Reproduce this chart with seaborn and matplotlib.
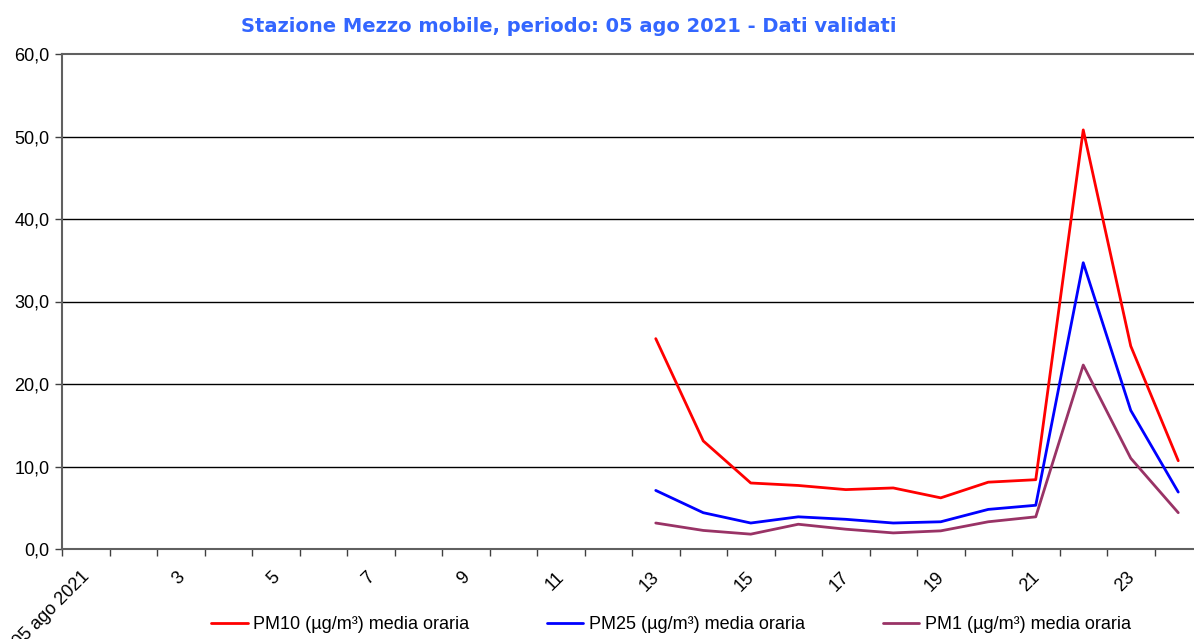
import matplotlib
matplotlib.use("Agg")
import matplotlib.pyplot as plt
import matplotlib.transforms as mtransforms
import seaborn as sns
import pandas as pd

# hourly averages, 05 ago 2021 (hours 1-12 missing)
hours = [13, 14, 15, 16, 17, 18, 19, 20, 21, 22, 23, 24]
pm10 = [25.5, 13.1, 8.0, 7.7, 7.2, 7.4, 6.2, 8.1, 8.4, 50.8, 24.6, 10.7]
pm25 = [7.1, 4.4, 3.15, 3.9, 3.6, 3.15, 3.3, 4.8, 5.3, 34.7, 16.8, 6.9]
pm1 = [3.15, 2.25, 1.8, 3.0, 2.4, 1.95, 2.2, 3.3, 3.9, 22.3, 11.0, 4.4]

series_names = ["PM10 (µg/m³) media oraria",
                "PM25 (µg/m³) media oraria",
                "PM1 (µg/m³) media oraria"]
colors = ["#FF0000", "#0000FF", "#993366"]

x_labels = ["05 ago 2021", "3", "5", "7", "9", "11", "13", "15", "17", "19", "21", "23"]
x_label_pos = [1, 3, 5, 7, 9, 11, 13, 15, 17, 19, 21, 23]
y_ticks = [0, 10, 20, 30, 40, 50, 60]

df = pd.concat([
    pd.DataFrame({"ora": hours, "valore": v, "serie": n})
    for v, n in zip([pm10, pm25, pm1], series_names)
])

sns.set_style("white")
plt.rcParams["font.family"] = ["Liberation Sans", "DejaVu Sans"]
plt.rcParams["text.color"] = "black"
plt.rcParams["xtick.color"] = "black"
plt.rcParams["ytick.color"] = "black"

fig = plt.figure(figsize=(11.94, 6.39), dpi=100)
ax = fig.add_axes([62 / 1194, 90 / 639, 1140 / 1194, 495 / 639])

sns.lineplot(data=df, x="ora", y="valore", hue="serie", palette=colors,
             linewidth=2, ax=ax, legend=True)

ax.set_xlim(0.5, 24.5)
ax.set_ylim(0, 60)

# y axis
ax.set_yticks(y_ticks)
ax.set_yticklabels([f"{t:.1f}".replace(".", ",") for t in y_ticks], fontsize=13)
for t in y_ticks[1:-1]:
    ax.axhline(t, color="black", linewidth=1, zorder=0)

# x axis: ticks on category borders, labels in the middle
ax.set_xticks([h + 0.5 for h in range(0, 25)])
ax.set_xticklabels([])
ax.set_xticks(x_label_pos, minor=True)
ax.set_xticklabels(x_labels, minor=True, rotation=45, ha="right",
                   rotation_mode="anchor", fontsize=13)
ax.tick_params(axis="x", which="major", direction="out", length=5, width=1,
               color="#404040", bottom=True)
ax.tick_params(axis="x", which="minor", length=0, pad=14)
ax.tick_params(axis="y", direction="out", length=5, width=1, color="#404040",
               left=True, pad=4)
shift = mtransforms.ScaledTranslation(-5 / 100, 0, fig.dpi_scale_trans)
for lbl in ax.get_xticklabels(minor=True):
    lbl.set_transform(lbl.get_transform() + shift)

for s in ["left", "bottom", "top"]:
    ax.spines[s].set_color("#606060")
    ax.spines[s].set_linewidth(1.5)
ax.spines["right"].set_visible(False)

ax.set_xlabel("")
ax.set_ylabel("")

fig.text(0.476, 0.958, "Stazione Mezzo mobile, periodo: 05 ago 2021 - Dati validati",
         ha="center", va="center", fontsize=14, fontweight="bold",
         color="#3366FF", family="DejaVu Sans")

handles, labels = ax.get_legend_handles_labels()
ax.get_legend().remove()
fig.legend(handles, labels, loc="lower center", bbox_to_anchor=(0.562, -0.016),
           ncol=3, frameon=False, fontsize=13, handlelength=2.0,
           handletextpad=0.3, columnspacing=4.33)

fig.savefig("out.png", dpi=100)
